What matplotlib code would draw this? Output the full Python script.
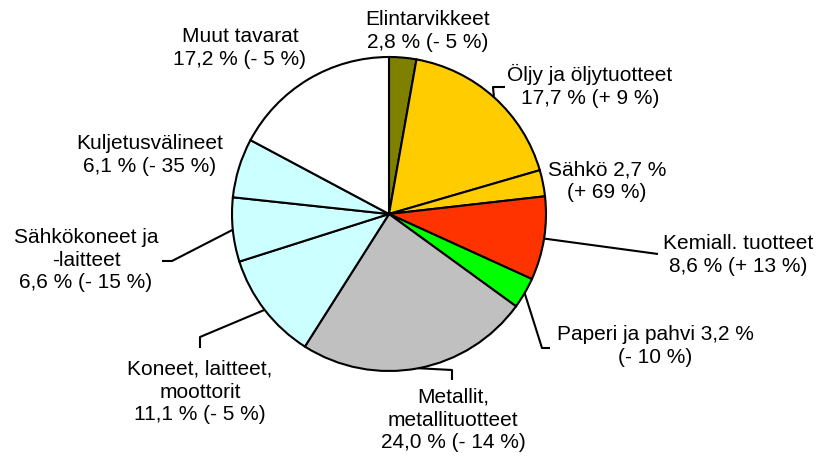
import numpy as np
import matplotlib.pyplot as plt

plt.rcParams['font.family'] = ['Liberation Sans', 'DejaVu Sans']

# data
categories = ["Elintarvikkeet", "Öljy ja öljytuotteet", "Sähkö", "Kemiall. tuotteet",
              "Paperi ja pahvi", "Metallit, metallituotteet", "Koneet, laitteet, moottorit",
              "Sähkökoneet ja -laitteet", "Kuljetusvälineet", "Muut tavarat"]
shares = [2.8, 17.7, 2.7, 8.6, 3.2, 24.0, 11.1, 6.6, 6.1, 17.2]
labels = ["Elintarvikkeet\n2,8 % (- 5 %)",
          "Öljy ja öljytuotteet\n17,7 % (+ 9 %)",
          "Sähkö 2,7 %\n(+ 69 %)",
          "Kemiall. tuotteet\n8,6 % (+ 13 %)",
          "Paperi ja pahvi 3,2 %\n(- 10 %)",
          "Metallit,\nmetallituotteet\n24,0 % (- 14 %)",
          "Koneet, laitteet,\nmoottorit\n11,1 % (- 5 %)",
          "Sähkökoneet ja\n-laitteet\n6,6 % (- 15 %)",
          "Kuljetusvälineet\n6,1 % (- 35 %)",
          "Muut tavarat\n17,2 % (- 5 %)"]
colors = ["#808000", "#FFCC00", "#FFCC00", "#FF3300", "#00FF00",
          "#C0C0C0", "#CCFFFF", "#CCFFFF", "#CCFFFF", "#FFFFFF"]

# layout (pixel coords)
cx, cy, r = 389, 214, 157
label_pos = [(428, 31), (590, 86), (607, 181), (738, 255), (655, 346),
             (453, 420), (200, 392), (86, 260), (150, 155), (240, 48)]
# leader elbow points per slice
leaders = {1: [(493, 87), (505, 87)],
           3: [(658, 254)],
           4: [(542, 348), (550, 348)],
           5: [(452, 370), (452, 380)],
           6: [(200, 337), (200, 348)],
           7: [(172, 261), (162, 261)]}

fig = plt.figure(figsize=(8.17, 4.61), dpi=100)
ax = fig.add_axes([0, 0, 1, 1])

# y axis is inverted below, so flip direction to keep clockwise on screen
wedges, _ = ax.pie(shares, colors=colors, startangle=-90, counterclock=True,
                   center=(cx, cy), radius=r, frame=True,
                   wedgeprops=dict(edgecolor='black', linewidth=1.5))
ax.set_xlim(0, 817)
ax.set_ylim(461, 0)
ax.set_aspect('equal')
ax.axis('off')

for txt, (x, y) in zip(labels, label_pos):
    ax.text(x, y, txt, ha='center', va='center', fontsize=15, linespacing=1.25)

# leader lines from slice mid-angle
cum = np.cumsum([0] + shares)
for i, pts in leaders.items():
    mid = 90 - (cum[i] + shares[i] / 2) * 3.6
    x0 = cx + r * np.cos(np.radians(mid))
    y0 = cy - r * np.sin(np.radians(mid))
    xs = [x0] + [p[0] for p in pts]
    ys = [y0] + [p[1] for p in pts]
    ax.plot(xs, ys, color='black', lw=1.5, solid_capstyle='butt')

fig.savefig("out.png", dpi=100)
